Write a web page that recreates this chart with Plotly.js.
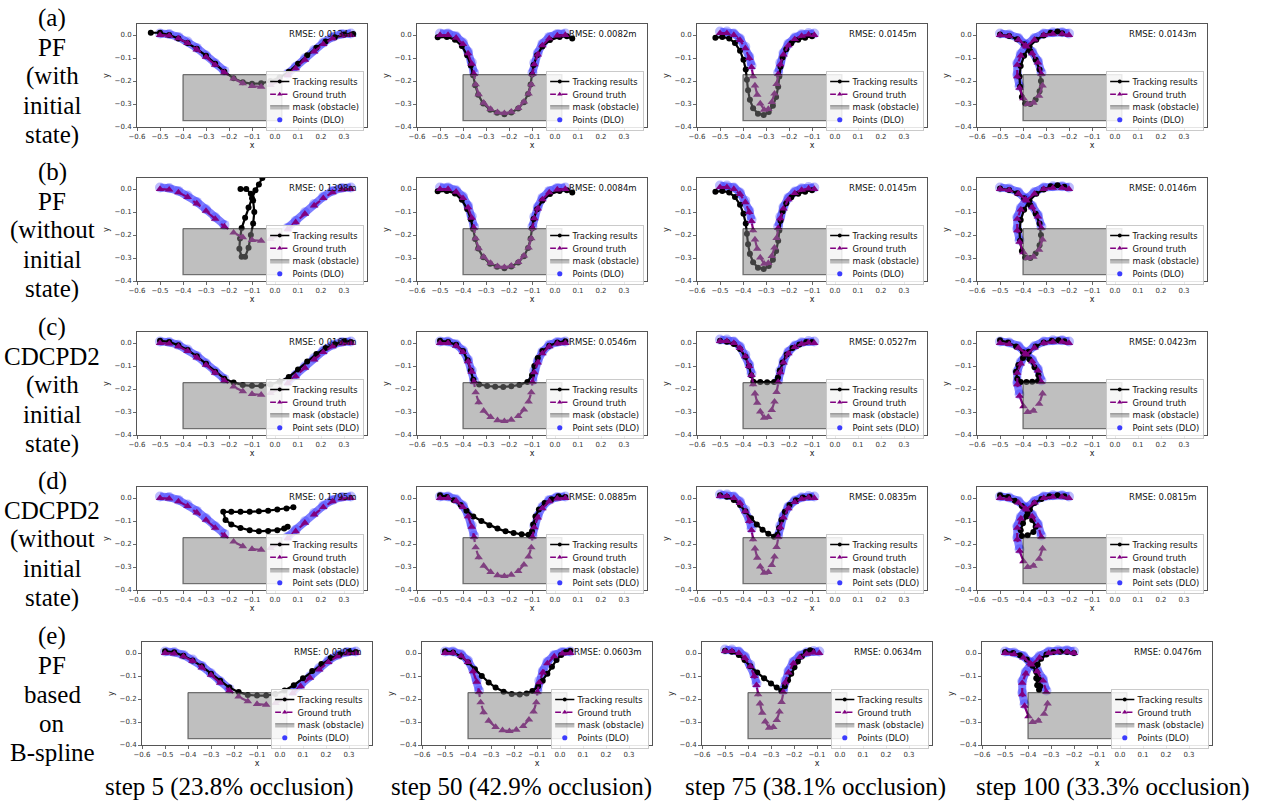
<!DOCTYPE html>
<html><head><meta charset="utf-8">
<script src="https://cdn.plot.ly/plotly-3.0.1.min.js"></script>
<style>html,body{margin:0;padding:0;background:#fff}#chart{width:1270px;height:804px}</style>
</head><body><div id="chart"></div>
<script>
// ---------------- DATA ----------------
const ROW_LABELS = [
  ['(a)', 'PF', '(with', 'initial', 'state)'],
  ['(b)', 'PF', '(without', 'initial', 'state)'],
  ['(c)', 'CDCPD2', '(with', 'initial', 'state)'],
  ['(d)', 'CDCPD2', '(without', 'initial', 'state)'],
  ['(e)', 'PF', 'based', 'on', 'B-spline']
];
const STEP_LABELS = ['step 5 (23.8% occlusion)', 'step 50 (42.9% occlusion)', 'step 75 (38.1% occlusion)', 'step 100 (33.3% occlusion)'];
const LEGEND_NAMES = ['Tracking results', 'Ground truth', 'mask (obstacle)'];
const POINTS_NAMES = ['Points (DLO)', 'Points (DLO)', 'Point sets (DLO)', 'Point sets (DLO)', 'Points (DLO)'];
const RMSE_A = ['0.0134', '0.0082', '0.0145', '0.0143'];
const RMSE_B = ['0.1398', '0.0084', '0.0145', '0.0146'];
const RMSE_C = ['0.0169', '0.0546', '0.0527', '0.0423'];
const RMSE_D = ['0.1795', '0.0885', '0.0835', '0.0815'];
const RMSE_E = ['0.0201', '0.0603', '0.0634', '0.0476'];
const XTICKS = [-0.6, -0.5, -0.4, -0.3, -0.2, -0.1, 0.0, 0.1, 0.2, 0.3];
const YTICKS = [-0.4, -0.3, -0.2, -0.1, 0.0];
const MASK_X = [-0.4, 0.03, 0.03, -0.4, -0.4];
const MASK_Y = [-0.172, -0.172, -0.372, -0.372, -0.172];

// ground truth per step (x, y)
const GT_STEP5 = [[-0.5,0.0],[-0.46,-0.003],[-0.42,-0.015],[-0.38,-0.035],[-0.34,-0.063],[-0.3,-0.095],[-0.26,-0.13],[-0.22,-0.163],[-0.18,-0.19],[-0.14,-0.21],[-0.1,-0.222],[-0.06,-0.225],[-0.02,-0.218],[0.02,-0.2],[0.055,-0.175],[0.09,-0.145],[0.13,-0.108],[0.17,-0.072],[0.21,-0.04],[0.25,-0.015],[0.29,-0.002],[0.33,0.0]];
const GT_STEP50 = [[-0.5,0.0],[-0.465,0.0],[-0.43,-0.012],[-0.4,-0.04],[-0.378,-0.08],[-0.362,-0.125],[-0.352,-0.17],[-0.345,-0.215],[-0.332,-0.258],[-0.31,-0.295],[-0.28,-0.322],[-0.25,-0.336],[-0.22,-0.34],[-0.19,-0.334],[-0.16,-0.318],[-0.135,-0.29],[-0.115,-0.255],[-0.103,-0.215],[-0.098,-0.17],[-0.09,-0.128],[-0.075,-0.085],[-0.055,-0.045],[-0.025,-0.015],[0.01,-0.002],[0.045,0.0]];
const GT_STEP75 = [[-0.5,0.008],[-0.47,0.008],[-0.44,0.0],[-0.413,-0.022],[-0.39,-0.058],[-0.373,-0.1],[-0.363,-0.14],[-0.356,-0.18],[-0.348,-0.22],[-0.338,-0.26],[-0.325,-0.298],[-0.308,-0.325],[-0.29,-0.322],[-0.275,-0.292],[-0.263,-0.255],[-0.254,-0.213],[-0.247,-0.17],[-0.238,-0.128],[-0.224,-0.085],[-0.203,-0.045],[-0.175,-0.018],[-0.145,-0.004],[-0.115,0.002],[-0.09,0.0]];
const GT_STEP100 = [[-0.5,0.0],[-0.46,-0.005],[-0.42,-0.02],[-0.39,-0.045],[-0.36,-0.08],[-0.335,-0.12],[-0.32,-0.17],[-0.315,-0.22],[-0.33,-0.265],[-0.355,-0.295],[-0.38,-0.3],[-0.398,-0.275],[-0.415,-0.23],[-0.425,-0.18],[-0.425,-0.13],[-0.41,-0.09],[-0.385,-0.05],[-0.35,-0.02],[-0.31,0.0],[-0.27,0.005],[-0.23,0.005],[-0.2,0.0]];

// tracking results, row (a) PF with initial state
const TRK_A1 = [[-0.54,0.01],[-0.5,0.01],[-0.46,0.0],[-0.42,-0.015],[-0.38,-0.035],[-0.34,-0.06],[-0.3,-0.09],[-0.26,-0.125],[-0.22,-0.16],[-0.18,-0.188],[-0.14,-0.205],[-0.1,-0.212],[-0.06,-0.21],[-0.02,-0.2],[0.02,-0.185],[0.06,-0.16],[0.1,-0.125],[0.14,-0.088],[0.18,-0.055],[0.22,-0.028],[0.26,-0.01],[0.3,0.002],[0.34,0.005]];
const TRK_A2 = [[-0.51,-0.01],[-0.47,-0.008],[-0.435,-0.02],[-0.405,-0.048],[-0.382,-0.088],[-0.366,-0.132],[-0.356,-0.175],[-0.347,-0.218],[-0.334,-0.26],[-0.312,-0.298],[-0.282,-0.325],[-0.252,-0.338],[-0.22,-0.344],[-0.19,-0.337],[-0.16,-0.32],[-0.135,-0.292],[-0.117,-0.256],[-0.106,-0.215],[-0.1,-0.172],[-0.093,-0.13],[-0.078,-0.088],[-0.055,-0.05],[-0.022,-0.022],[0.02,-0.008],[0.052,-0.005],[0.075,-0.015]];
const TRK_A3 = [[-0.52,-0.012],[-0.49,-0.008],[-0.46,-0.015],[-0.435,-0.035],[-0.413,-0.068],[-0.398,-0.108],[-0.388,-0.15],[-0.383,-0.195],[-0.378,-0.24],[-0.37,-0.282],[-0.356,-0.318],[-0.335,-0.342],[-0.31,-0.348],[-0.288,-0.335],[-0.27,-0.308],[-0.256,-0.27],[-0.247,-0.225],[-0.242,-0.18],[-0.237,-0.138],[-0.228,-0.098],[-0.212,-0.062],[-0.19,-0.036],[-0.16,-0.02],[-0.13,-0.012],[-0.1,-0.005]];
const TRK_A4 = [[-0.5,0.002],[-0.46,-0.004],[-0.425,-0.018],[-0.395,-0.04],[-0.368,-0.07],[-0.345,-0.108],[-0.328,-0.15],[-0.322,-0.2],[-0.328,-0.245],[-0.345,-0.28],[-0.368,-0.3],[-0.39,-0.298],[-0.405,-0.27],[-0.413,-0.225],[-0.415,-0.18],[-0.41,-0.135],[-0.395,-0.09],[-0.372,-0.05],[-0.342,-0.02],[-0.31,-0.002],[-0.28,0.01],[-0.25,0.015],[-0.23,0.008]];
// row (b) PF without initial state
const TRK_B1 = [[-0.15,0.0],[-0.125,0.0],[-0.105,-0.02],[-0.095,-0.05],[-0.09,-0.1],[-0.095,-0.15],[-0.105,-0.2],[-0.115,-0.255],[-0.13,-0.295],[-0.145,-0.295],[-0.155,-0.26],[-0.152,-0.215],[-0.145,-0.17],[-0.13,-0.125],[-0.115,-0.08],[-0.1,-0.04],[-0.085,-0.005],[-0.07,0.02],[-0.055,0.048]];
const TRK_B2 = [[-0.51,-0.01],[-0.47,-0.008],[-0.435,-0.019],[-0.405,-0.047],[-0.382,-0.087],[-0.366,-0.131],[-0.356,-0.174],[-0.347,-0.217],[-0.334,-0.259],[-0.312,-0.297],[-0.282,-0.325],[-0.252,-0.338],[-0.22,-0.344],[-0.19,-0.337],[-0.16,-0.32],[-0.135,-0.292],[-0.117,-0.256],[-0.106,-0.215],[-0.1,-0.172],[-0.093,-0.13],[-0.078,-0.088],[-0.055,-0.05],[-0.022,-0.022],[0.02,-0.008],[0.052,-0.005],[0.075,-0.015]];
const TRK_B3 = [[-0.52,-0.012],[-0.49,-0.008],[-0.46,-0.015],[-0.435,-0.035],[-0.413,-0.068],[-0.398,-0.108],[-0.388,-0.15],[-0.383,-0.195],[-0.378,-0.24],[-0.37,-0.282],[-0.356,-0.318],[-0.335,-0.342],[-0.31,-0.348],[-0.288,-0.335],[-0.27,-0.308],[-0.256,-0.27],[-0.247,-0.225],[-0.242,-0.18],[-0.237,-0.138],[-0.228,-0.098],[-0.212,-0.062],[-0.19,-0.036],[-0.16,-0.02],[-0.13,-0.012],[-0.1,-0.005]];
const TRK_B4 = [[-0.5,0.002],[-0.46,-0.004],[-0.425,-0.018],[-0.395,-0.04],[-0.368,-0.07],[-0.345,-0.108],[-0.328,-0.15],[-0.322,-0.2],[-0.328,-0.245],[-0.345,-0.28],[-0.368,-0.3],[-0.39,-0.298],[-0.405,-0.27],[-0.413,-0.225],[-0.415,-0.18],[-0.41,-0.135],[-0.395,-0.09],[-0.372,-0.05],[-0.342,-0.02],[-0.31,-0.002],[-0.28,0.012],[-0.25,0.016],[-0.22,0.01]];
// row (c) CDCPD2 with initial state
const TRK_C1 = [[-0.5,0.01],[-0.46,0.005],[-0.42,-0.01],[-0.38,-0.03],[-0.34,-0.058],[-0.3,-0.09],[-0.26,-0.125],[-0.22,-0.155],[-0.18,-0.172],[-0.14,-0.183],[-0.1,-0.186],[-0.06,-0.186],[-0.02,-0.18],[0.02,-0.168],[0.06,-0.148],[0.1,-0.115],[0.14,-0.08],[0.18,-0.048],[0.22,-0.022],[0.26,-0.005],[0.3,0.008],[0.33,0.005]];
const TRK_C2 = [[-0.5,0.01],[-0.465,0.005],[-0.43,-0.008],[-0.4,-0.035],[-0.38,-0.075],[-0.366,-0.12],[-0.355,-0.16],[-0.33,-0.18],[-0.295,-0.187],[-0.26,-0.19],[-0.225,-0.191],[-0.19,-0.188],[-0.155,-0.182],[-0.12,-0.17],[-0.1,-0.14],[-0.09,-0.1],[-0.075,-0.065],[-0.055,-0.035],[-0.025,-0.012],[0.01,0.002],[0.045,0.008]];
const TRK_C3 = [[-0.5,0.01],[-0.47,0.006],[-0.44,-0.004],[-0.413,-0.026],[-0.39,-0.06],[-0.374,-0.1],[-0.364,-0.14],[-0.355,-0.168],[-0.325,-0.17],[-0.295,-0.171],[-0.265,-0.17],[-0.248,-0.15],[-0.24,-0.12],[-0.228,-0.085],[-0.21,-0.05],[-0.185,-0.022],[-0.155,-0.006],[-0.125,0.004],[-0.1,0.005]];
const TRK_C4 = [[-0.5,0.012],[-0.465,0.002],[-0.43,-0.015],[-0.4,-0.04],[-0.372,-0.07],[-0.35,-0.105],[-0.333,-0.14],[-0.335,-0.165],[-0.36,-0.168],[-0.385,-0.17],[-0.41,-0.17],[-0.425,-0.155],[-0.43,-0.125],[-0.42,-0.095],[-0.4,-0.065],[-0.375,-0.038],[-0.345,-0.015],[-0.31,0.002],[-0.275,0.01],[-0.245,0.012],[-0.22,0.008]];
// row (d) CDCPD2 without initial state
const TRK_D1 = [[0.08,-0.04],[0.05,-0.045],[0.01,-0.05],[-0.03,-0.055],[-0.07,-0.058],[-0.11,-0.06],[-0.15,-0.06],[-0.19,-0.06],[-0.225,-0.06],[-0.215,-0.095],[-0.19,-0.115],[-0.15,-0.13],[-0.11,-0.14],[-0.07,-0.145],[-0.03,-0.143],[0.01,-0.14],[0.04,-0.132],[0.055,-0.125]];
const TRK_D2 = [[-0.5,0.012],[-0.47,0.005],[-0.44,-0.01],[-0.41,-0.03],[-0.385,-0.055],[-0.355,-0.08],[-0.32,-0.1],[-0.285,-0.118],[-0.25,-0.133],[-0.215,-0.145],[-0.18,-0.152],[-0.145,-0.158],[-0.115,-0.16],[-0.1,-0.145],[-0.095,-0.115],[-0.085,-0.08],[-0.07,-0.05],[-0.045,-0.022],[-0.015,-0.005],[0.015,0.008],[0.045,0.005]];
const TRK_D3 = [[-0.5,0.012],[-0.47,0.006],[-0.44,-0.008],[-0.413,-0.03],[-0.39,-0.058],[-0.365,-0.088],[-0.34,-0.115],[-0.315,-0.138],[-0.29,-0.155],[-0.265,-0.168],[-0.25,-0.16],[-0.243,-0.13],[-0.233,-0.095],[-0.218,-0.06],[-0.198,-0.03],[-0.17,-0.01],[-0.14,0.002],[-0.11,0.006]];
const TRK_D4 = [[-0.5,0.012],[-0.465,0.004],[-0.435,-0.012],[-0.405,-0.035],[-0.38,-0.065],[-0.36,-0.095],[-0.345,-0.125],[-0.355,-0.148],[-0.38,-0.162],[-0.405,-0.165],[-0.41,-0.14],[-0.4,-0.11],[-0.385,-0.08],[-0.37,-0.05],[-0.35,-0.022],[-0.32,-0.004],[-0.285,0.008],[-0.25,0.012],[-0.22,0.008]];
// row (e) PF based on B-spline
const TRK_E1 = [[-0.5,0.008],[-0.46,0.003],[-0.42,-0.012],[-0.38,-0.032],[-0.34,-0.058],[-0.3,-0.09],[-0.26,-0.12],[-0.22,-0.15],[-0.18,-0.17],[-0.14,-0.182],[-0.1,-0.185],[-0.06,-0.185],[-0.02,-0.178],[0.02,-0.163],[0.06,-0.14],[0.1,-0.11],[0.14,-0.078],[0.18,-0.048],[0.22,-0.022],[0.26,-0.005],[0.3,0.006],[0.33,0.005]];
const TRK_E2 = [[-0.5,0.008],[-0.465,0.002],[-0.43,-0.015],[-0.4,-0.04],[-0.37,-0.07],[-0.34,-0.1],[-0.31,-0.128],[-0.28,-0.15],[-0.245,-0.168],[-0.21,-0.178],[-0.175,-0.18],[-0.145,-0.176],[-0.12,-0.165],[-0.095,-0.145],[-0.075,-0.12],[-0.055,-0.09],[-0.035,-0.06],[-0.015,-0.03],[0.005,-0.008],[0.025,0.005],[0.045,0.01]];
const TRK_E3 = [[-0.5,0.01],[-0.47,0.006],[-0.44,-0.008],[-0.415,-0.03],[-0.39,-0.058],[-0.36,-0.085],[-0.33,-0.11],[-0.3,-0.132],[-0.275,-0.15],[-0.255,-0.165],[-0.24,-0.145],[-0.226,-0.118],[-0.212,-0.09],[-0.198,-0.062],[-0.183,-0.037],[-0.166,-0.015],[-0.148,0.005],[-0.13,0.012],[-0.12,0.008]];
const TRK_E4 = [[-0.5,0.005],[-0.465,0.0],[-0.435,-0.01],[-0.405,-0.028],[-0.38,-0.055],[-0.362,-0.085],[-0.352,-0.115],[-0.347,-0.145],[-0.352,-0.16],[-0.36,-0.14],[-0.364,-0.11],[-0.364,-0.08],[-0.358,-0.05],[-0.343,-0.025],[-0.32,-0.006],[-0.29,0.004],[-0.26,0.006],[-0.23,0.004],[-0.2,0.0]];

// ---------------- ASSEMBLY ----------------
const GT = [GT_STEP5, GT_STEP50, GT_STEP75, GT_STEP100];
const TRK = [
  [TRK_A1, TRK_A2, TRK_A3, TRK_A4],
  [TRK_B1, TRK_B2, TRK_B3, TRK_B4],
  [TRK_C1, TRK_C2, TRK_C3, TRK_C4],
  [TRK_D1, TRK_D2, TRK_D3, TRK_D4],
  [TRK_E1, TRK_E2, TRK_E3, TRK_E4]
];
const RMSE = [RMSE_A, RMSE_B, RMSE_C, RMSE_D, RMSE_E];

const W = 1270, H = 804;
const COL_LEFT = [137, 417, 697, 977];
const ROW_TOP = [24, 178, 332, 487, 642];
const ROW_SHIFT = [0, 0, 0, 0, 5];
const BOX_W = 230, BOX_H = 103;
const LEG_SCALE = 0.64;
const FONT = '"DejaVu Sans", Arial, sans-serif';
const SERIF = '"Liberation Serif"';

const mx0 = Math.min(...MASK_X), mx1 = Math.max(...MASK_X), myTop = Math.max(...MASK_Y);
function hidden(p) { return p[0] >= mx0 && p[0] <= mx1 && p[1] < myTop; }

const data = [];
const layout = {
  width: W, height: H,
  margin: {l: 0, r: 0, t: 0, b: 0},
  paper_bgcolor: '#fff', plot_bgcolor: '#fff',
  showlegend: true, hovermode: false,
  annotations: []
};

for (let r = 0; r < 5; r++) {
  for (let c = 0; c < 4; c++) {
    const k = r * 4 + c + 1;
    const sfx = k > 1 ? String(k) : '';
    const xa = 'x' + sfx, ya = 'y' + sfx, lg = 'legend' + sfx;
    const L = COL_LEFT[c] + ROW_SHIFT[r], T = ROW_TOP[r];
    const gt = GT[c], tr = TRK[r][c];

    layout['xaxis' + sfx] = {
      domain: [L / W, (L + BOX_W) / W], anchor: ya,
      range: [-0.6, 0.4], tickvals: XTICKS, tickformat: '.1f',
      showline: true, mirror: true, linecolor: '#555', linewidth: 1,
      ticks: 'outside', ticklen: 3, tickwidth: 0.8, tickcolor: '#444',
      tickfont: {size: 7, family: FONT, color: '#333'},
      showgrid: false, zeroline: false, fixedrange: true,
      title: {text: 'x', font: {size: 8, family: FONT, color: '#222'}, standoff: 1}
    };
    layout['yaxis' + sfx] = {
      domain: [1 - (T + BOX_H) / H, 1 - T / H], anchor: xa,
      range: [-0.4, 0.048], tickvals: YTICKS, tickformat: '.1f',
      showline: true, mirror: true, linecolor: '#555', linewidth: 1,
      ticks: 'outside', ticklen: 3, tickwidth: 0.8, tickcolor: '#444',
      tickfont: {size: 7, family: FONT, color: '#333'},
      showgrid: false, zeroline: false, fixedrange: true,
      title: {text: 'y', font: {size: 8, family: FONT, color: '#222'}, standoff: 3}
    };
    layout[lg] = {
      x: (L + 129) / W, y: 1 - (T + 47) / H, xanchor: 'left', yanchor: 'top',
      xref: 'paper', yref: 'paper',
      bgcolor: 'rgba(255,255,255,0.85)', bordercolor: '#c8c8c8', borderwidth: 1.5,
      font: {size: 13, family: FONT, color: '#111'},
      itemwidth: 30, tracegroupgap: 0, traceorder: 'normal'
    };

    // visible DLO points (outside the mask)
    data.push({
      type: 'scatter', mode: 'lines+markers', xaxis: xa, yaxis: ya,
      x: gt.map(p => hidden(p) ? null : p[0]),
      y: gt.map(p => hidden(p) ? null : p[1] + 0.007),
      line: {color: 'rgba(40,40,255,0.6)', width: 8},
      marker: {size: 10, color: 'rgba(60,60,255,0.35)'},
      showlegend: false, hoverinfo: 'skip'
    });
    // tracking results
    data.push({
      type: 'scatter', mode: 'lines+markers', xaxis: xa, yaxis: ya,
      x: tr.map(p => p[0]), y: tr.map(p => p[1]),
      line: {color: '#000', width: 2.2},
      marker: {symbol: 'circle', size: 6, color: '#000'},
      name: LEGEND_NAMES[0], legend: lg, legendrank: 1
    });
    // ground truth
    data.push({
      type: 'scatter', mode: 'lines+markers', xaxis: xa, yaxis: ya,
      x: gt.map(p => p[0]), y: gt.map(p => p[1]),
      line: {color: '#800080', width: 2.2, dash: 'dash'},
      marker: {symbol: 'triangle-up', size: 7.5, color: '#800080'},
      name: LEGEND_NAMES[1], legend: lg, legendrank: 2
    });
    // mask (obstacle)
    data.push({
      type: 'scatter', mode: 'lines', xaxis: xa, yaxis: ya,
      x: MASK_X, y: MASK_Y, fill: 'toself',
      fillcolor: 'rgba(128,128,128,0.5)',
      line: {color: 'rgba(0,0,0,0.5)', width: 1.3},
      name: LEGEND_NAMES[2], legend: lg, legendrank: 3
    });
    // points legend entry
    data.push({
      type: 'scatter', mode: 'markers', xaxis: xa, yaxis: ya,
      x: [null], y: [null],
      marker: {size: 8, color: '#3c3cff'},
      name: POINTS_NAMES[r], legend: lg, legendrank: 4
    });

    layout.annotations.push({
      xref: xa + ' domain', yref: ya + ' domain', x: 0.965, y: 0.9,
      xanchor: 'right', yanchor: 'middle', showarrow: false,
      text: 'RMSE: ' + RMSE[r][c] + 'm',
      font: {size: 8.5, family: FONT, color: '#111'}
    });
  }
}

// row labels (left)
const ROW_LINE0 = [18, 172, 327, 481, 636];
ROW_LABELS.forEach((lines, r) => {
  lines.forEach((txt, i) => {
    layout.annotations.push({
      xref: 'paper', yref: 'paper', x: 52 / W, y: 1 - (ROW_LINE0[r] + i * 29.2) / H,
      xanchor: 'center', yanchor: 'middle', showarrow: false, text: txt,
      font: {size: 25, family: SERIF, color: '#000'}
    });
  });
});
// step labels (bottom)
const STEP_X = [229, 521, 815, 1113];
STEP_LABELS.forEach((txt, c) => {
  layout.annotations.push({
    xref: 'paper', yref: 'paper', x: STEP_X[c] / W, y: 1 - 787 / H,
    xanchor: 'center', yanchor: 'middle', showarrow: false, text: txt,
    font: {size: 25, family: SERIF, color: '#000'}
  });
});

Plotly.newPlot('chart', data, layout, {staticPlot: true, displayModeBar: false}).then(gd => {
  for (let k = 1; k <= 20; k++) {
    const g = gd.querySelector('g.legend' + (k > 1 ? k : ''));
    if (g) {
      const t = g.getAttribute('transform') || '';
      g.setAttribute('transform', t + ' scale(' + LEG_SCALE + ')');
    }
  }
});
</script>
</body></html>
